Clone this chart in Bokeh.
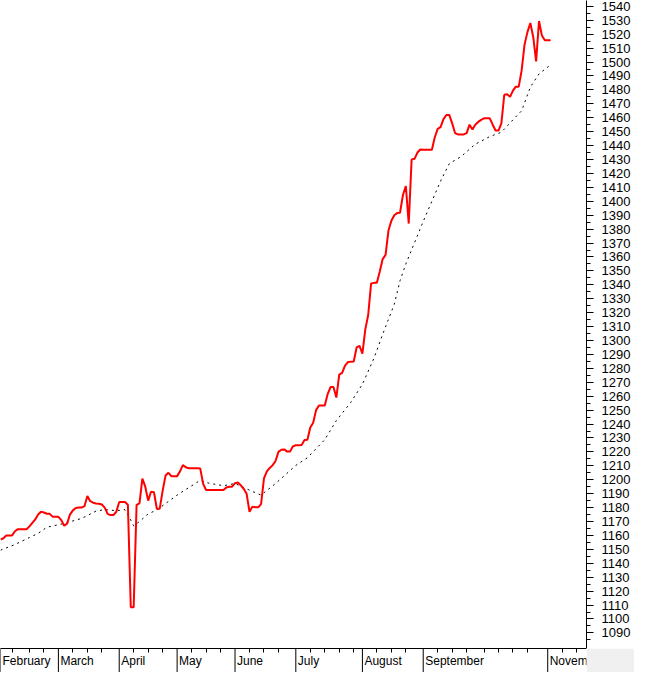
from bokeh.plotting import figure
from bokeh.layouts import column
from bokeh.models import Range1d, FixedTicker
from bokeh.embed import file_html
from bokeh.resources import INLINE
from bokeh.core.properties import value

# daily closing values (trading-day index 0 = start of February)
close = [
    1157, 1158, 1160, 1160, 1160, 1163, 1164.5, 1164.5, 1164.5, 1164.5,
    1166.5, 1169, 1171.5, 1175, 1177, 1176.5, 1175.6, 1175.5, 1173.5, 1173.4,
    1173.4, 1171, 1167, 1168.5, 1175, 1178, 1179.7, 1180, 1180, 1181,
    1188.4, 1184.6, 1183.5, 1183, 1182.7, 1182.2, 1180, 1175.5, 1174.6, 1174.6,
    1177, 1184, 1184, 1184, 1182, 1108.4, 1108.4, 1182, 1183, 1200.8,
    1195, 1185, 1191.4, 1191, 1179.2, 1179.2, 1192, 1203, 1205, 1202.6,
    1202.6, 1202.6, 1206, 1210.5, 1209, 1208.3, 1208.3, 1208.3, 1208.3, 1208,
    1197, 1192.6, 1192.6, 1192.6, 1192.6, 1192.6, 1192.6, 1192.6, 1194.5, 1195,
    1195, 1197.5, 1198, 1196, 1193.5, 1190, 1177, 1180.7, 1180.2, 1180.2,
    1182.5, 1201, 1206, 1208.5, 1210.5, 1213.5, 1220, 1221.5, 1221.8, 1220.2,
    1220.2, 1224, 1224.8, 1224.8, 1225, 1228.5, 1228.8, 1237.5, 1241, 1250,
    1253.3, 1253.3, 1253.3, 1261.5, 1266.6, 1266.6, 1259, 1275.5, 1276.7, 1282,
    1284.5, 1284.7, 1284.9, 1295, 1296.1, 1290.5, 1308, 1318.3, 1341, 1341.4,
    1341.4, 1349.5, 1358.5, 1361.5, 1379, 1386, 1390, 1391.5, 1391.8, 1404.5,
    1411, 1384, 1430, 1430.5, 1435, 1437.2, 1437, 1437, 1437, 1437,
    1446, 1452, 1453.3, 1459, 1462, 1462, 1456, 1449, 1448, 1448,
    1448, 1449, 1455, 1451.5, 1455, 1457, 1458.5, 1459.6, 1459.6, 1459.6,
    1455, 1450.8, 1450.8, 1456, 1476.5, 1476.8, 1475, 1479.5, 1482.3, 1482.3,
    1494, 1512.5, 1521.5, 1528, 1518, 1500.5, 1529.5, 1519, 1515.7, 1515.7,
    1515.7,
]
days = list(range(len(close)))

# moving average (dotted), read at selected days
ma_days = [0, 5, 10, 13, 16, 22, 28, 33, 36, 40,
           43, 45, 46, 48, 51, 54, 61, 69, 72, 77,
           81, 86, 90, 95, 102, 106, 112, 116, 121, 125,
           129, 132, 136, 138, 140, 146, 152, 155, 159, 164,
           169, 173, 177, 180, 183, 186, 190]
ma_values = [1149.4, 1153.5, 1158.5, 1161.5, 1165.9, 1168.6, 1172.2, 1177.5, 1178.6, 1177.8,
             1178.5, 1171, 1166.9, 1170, 1175.5, 1178.3, 1189, 1199.6, 1197.5, 1195.7,
             1197.3, 1192.5, 1189, 1197.3, 1210.3, 1215.8, 1228.8, 1242.5, 1255.6, 1268.6,
             1287.3, 1304.5, 1326, 1343, 1355, 1385.5, 1414.5, 1427, 1432, 1441,
             1446.5, 1449.6, 1458.5, 1465, 1482, 1491.5, 1498]

month_names = ["February", "March", "April", "May", "June", "July", "August", "September", "November"]
month_start_days = [0, 20, 41, 61, 81, 102, 125, 146, 189]
week_tick_days = [4, 10, 15, 25, 30, 35, 46, 51, 56, 66, 71, 76, 86, 91, 96,
                  107, 112, 117, 122, 130, 135, 140, 151, 156, 161, 167, 172,
                  177, 182, 194, 199]
y_ticks = list(range(1090, 1541, 10))
y_minor_ticks = list(range(1085, 1546, 5))

FONT = "Liberation Sans"
x_range = Range1d(0, 202.4)

# ---- main chart ----
p = figure(width=634, height=648, output_backend="svg", toolbar_location=None,
           x_range=x_range, y_range=Range1d(1078.8, 1544.2),
           x_axis_location=None, y_axis_location="right",
           min_border_left=0, min_border_top=0, min_border_right=48, min_border_bottom=0)
p.grid.visible = False
p.outline_line_color = None

p.line(ma_days, ma_values, line_color="black", line_width=1, line_dash="2 4")
p.line(days, close, line_color="#ff0000", line_width=2)

ya = p.yaxis[0]
ya.ticker = FixedTicker(ticks=y_ticks, minor_ticks=y_minor_ticks)
ya.axis_line_color = "black"
ya.major_tick_line_color = "black"
ya.minor_tick_line_color = "black"
ya.major_tick_in = 0
ya.major_tick_out = 7
ya.minor_tick_in = 0
ya.minor_tick_out = 4
ya.major_label_standoff = 8
ya.major_label_text_font = FONT
ya.major_label_text_font_size = "13px"
ya.major_label_text_color = "black"

# ---- month strip (time axis) ----
b = figure(width=634, height=24, output_backend="svg", toolbar_location=None,
           x_range=x_range, y_range=Range1d(0, 1),
           x_axis_location="above", y_axis_location=None,
           min_border_left=0, min_border_top=0, min_border_right=48, min_border_bottom=0)
b.grid.visible = False
b.outline_line_color = None
b.border_fill_color = "#f0f0f0"
b.background_fill_color = "white"

bx = b.xaxis[0]
bx.ticker = FixedTicker(ticks=[], minor_ticks=week_tick_days)
bx.axis_line_color = "black"
bx.minor_tick_line_color = "black"
bx.major_tick_in = 0
bx.major_tick_out = 0
bx.minor_tick_in = 4
bx.minor_tick_out = 0
bx.major_label_standoff = 0

b.segment(x0=month_start_days, y0=0, x1=month_start_days, y1=1,
          line_color="black", line_width=1)
b.text(x=month_start_days, y=0.48, text=month_names,
       text_font=value(FONT), text_font_size="12px", text_color="black",
       text_align="left", text_baseline="middle", x_offset=2)

layout = column(p, b, spacing=0)
open("out.html", "w").write(file_html(layout, INLINE))
